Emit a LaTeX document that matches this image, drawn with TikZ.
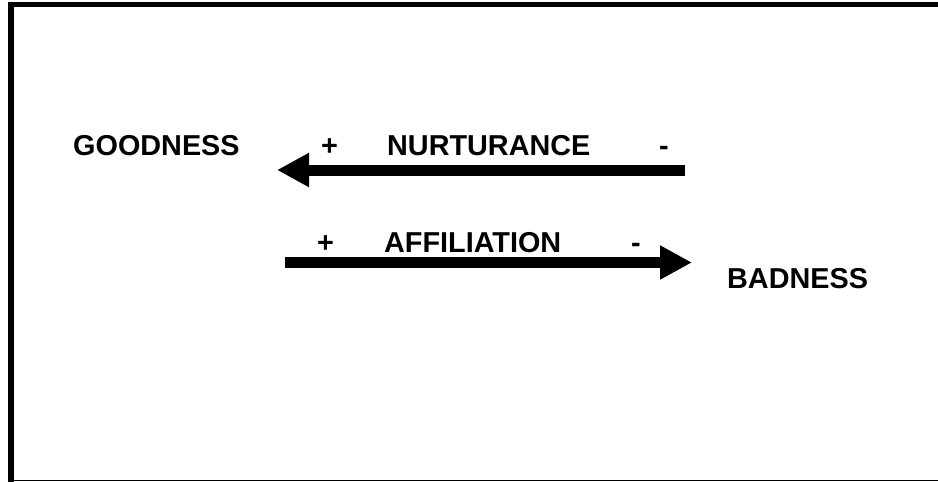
\documentclass[tikz,border=0pt]{standalone}
\usepackage{fontspec}
\setmainfont{Liberation Sans}
\usetikzlibrary{arrows.meta}
\begin{document}
\begin{tikzpicture}[x=1pt,y=-1pt,
  lbl/.style={anchor=base west,inner sep=0pt,font=\fontsize{28.8}{34}\selectfont\bfseries},
  bigarrow/.style={line width=11pt,-{Triangle[length=32pt,width=32pt]}}]
\useasboundingbox (0,0) rectangle (938,482);
% frame
\fill (8,2) rectangle (938,7);
\fill (8,2) rectangle (14,482);
\fill (14,479.8) rectangle (938,481.3);
% labels
\node[lbl] (good) at (73,155.5) {GOODNESS};
\node[lbl] (nplus) at (321,155.5) {+};
\node[lbl] (nurt) at (387,155.5) {NURTURANCE};
\node[lbl] (nminus) at (659,155.5) {-};
\node[lbl] (aplus) at (317,252.5) {+};
\node[lbl] (affil) at (384,252.5) {AFFILIATION};
\node[lbl] (aminus) at (631,252.5) {-};
\node[lbl] (bad) at (727,288) {BADNESS};
% arrows
\coordinate (n1) at (685,170);
\coordinate (n2) at (277,170);
\coordinate (a1) at (285,262.5);
\coordinate (a2) at (692,262.5);
\draw[bigarrow] (n1) -- (n2);
\draw[bigarrow] (a1) -- (a2);
\end{tikzpicture}
\end{document}
